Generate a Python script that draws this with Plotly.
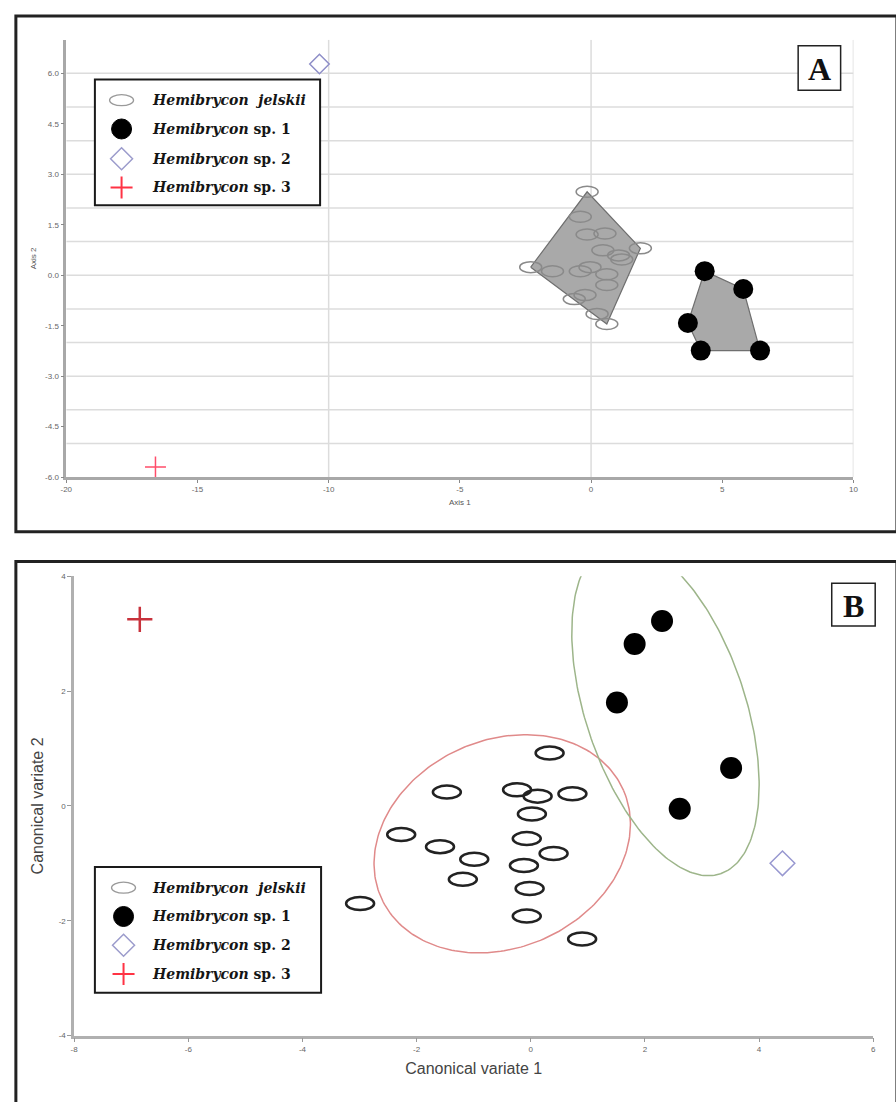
import numpy as np
import plotly.graph_objects as go

W, H = 896, 1102

# ---------------- Panel A: PCA-style axis scores ----------------
a_jelskii_x = [-0.15, -0.41, -0.15, 0.53, 0.45, 1.88, 1.05, 1.17, -2.30, -1.47,
               -0.41, -0.04, 0.60, 0.60, -0.23, -0.64, 0.23, 0.60]
a_jelskii_y = [2.48, 1.74, 1.21, 1.24, 0.74, 0.80, 0.59, 0.47, 0.24, 0.12,
               0.12, 0.24, 0.03, -0.29, -0.59, -0.71, -1.15, -1.45]
a_sp1_x = [4.33, 5.80, 3.69, 4.18, 6.44]
a_sp1_y = [0.12, -0.41, -1.42, -2.24, -2.24]
a_sp2_x = [-10.35]
a_sp2_y = [6.28]
a_sp3_x = [-16.6]
a_sp3_y = [-5.70]

a_xticks = [-20, -15, -10, -5, 0, 5, 10]
a_yticks = [-6.0, -4.5, -3.0, -1.5, 0.0, 1.5, 3.0, 4.5, 6.0]

# ---------------- Panel B: canonical variates ----------------
b_jelskii_x = [0.33, -1.47, -0.24, 0.12, 0.73, 0.02, -2.27, -0.07, -1.59, 0.40,
               -0.99, -0.12, -1.19, -0.02, -2.99, -0.07, 0.90]
b_jelskii_y = [0.92, 0.24, 0.28, 0.17, 0.21, -0.14, -0.50, -0.57, -0.71, -0.83,
               -0.93, -1.04, -1.28, -1.44, -1.70, -1.92, -2.32]
b_sp1_x = [2.30, 1.82, 1.51, 3.51, 2.61]
b_sp1_y = [3.22, 2.82, 1.80, 0.66, -0.05]
b_sp2_x = [4.41]
b_sp2_y = [-1.00]
b_sp3_x = [-6.85]
b_sp3_y = [3.25]

b_xticks = [-8, -6, -4, -2, 0, 2, 4, 6]
b_yticks = [-4, -2, 0, 2, 4]

# confidence ellipses: centre, semi-axes, rotation (degrees)
b_jelskii_ellipse = dict(cx=-0.50, cy=-0.66, a=2.32, b=1.81, angle=23.6)
b_sp1_ellipse = dict(cx=2.36, cy=1.69, a=3.03, b=1.40, angle=-71.4)

legend_labels = ["<b><i>Hemibrycon  jelskii</i></b>",
                 "<b><i>Hemibrycon</i> sp. 1</b>",
                 "<b><i>Hemibrycon</i> sp. 2</b>",
                 "<b><i>Hemibrycon</i> sp. 3</b>"]


def px_x(v):
    return v / W


def px_y(v):
    return 1 - v / H


def convex_hull(xs, ys):
    pts = sorted(set(zip(xs, ys)))

    def cross(o, a, b):
        return (a[0] - o[0]) * (b[1] - o[1]) - (a[1] - o[1]) * (b[0] - o[0])

    lower, upper = [], []
    for p in pts:
        while len(lower) >= 2 and cross(lower[-2], lower[-1], p) <= 0:
            lower.pop()
        lower.append(p)
    for p in reversed(pts):
        while len(upper) >= 2 and cross(upper[-2], upper[-1], p) <= 0:
            upper.pop()
        upper.append(p)
    hull = lower[:-1] + upper[:-1]
    hull.append(hull[0])
    return [p[0] for p in hull], [p[1] for p in hull]


def ellipse_path(e, n=241):
    t = np.linspace(0, 2 * np.pi, n)
    th = np.deg2rad(e["angle"])
    ex = e["a"] * np.cos(t)
    ey = e["b"] * np.sin(t)
    return (e["cx"] + ex * np.cos(th) - ey * np.sin(th),
            e["cy"] + ex * np.sin(th) + ey * np.cos(th))


fig = go.Figure()
shapes = []
annotations = []

# ---- Panel A traces ----
hx, hy = convex_hull(a_jelskii_x, a_jelskii_y)
fig.add_trace(go.Scatter(x=hx, y=hy, mode="lines", fill="toself",
                         fillcolor="#a9a9a9", line=dict(color="#6f6f6f", width=1.2),
                         xaxis="x", yaxis="y", showlegend=False, hoverinfo="skip"))
hx, hy = convex_hull(a_sp1_x, a_sp1_y)
fig.add_trace(go.Scatter(x=hx, y=hy, mode="lines", fill="toself",
                         fillcolor="#a9a9a9", line=dict(color="#6f6f6f", width=1.2),
                         xaxis="x", yaxis="y", showlegend=False, hoverinfo="skip"))
fig.add_trace(go.Scatter(x=a_sp1_x, y=a_sp1_y, mode="markers",
                         marker=dict(color="black", size=20),
                         xaxis="x", yaxis="y", showlegend=False))
fig.add_trace(go.Scatter(x=a_sp2_x, y=a_sp2_y, mode="markers",
                         marker=dict(symbol="diamond-open", color="#8f8fc8", size=15,
                                     line=dict(width=1.5)),
                         xaxis="x", yaxis="y", showlegend=False))
fig.add_trace(go.Scatter(x=a_sp3_x, y=a_sp3_y, mode="markers",
                         marker=dict(symbol="cross-thin-open", color="#ff4d6a", size=15,
                                     line=dict(width=1.5, color="#ff4d6a")),
                         xaxis="x", yaxis="y", showlegend=False))

# gridlines for panel A (every unit in y, every 10 in x)
for gy in np.arange(-5, 7, 1):
    shapes.append(dict(type="line", xref="x", yref="y", x0=-20, x1=10, y0=gy, y1=gy,
                       line=dict(color="#dcdcdc", width=1.5), layer="below"))
for gx in [-10, 0, 10]:
    shapes.append(dict(type="line", xref="x", yref="y", x0=gx, x1=gx, y0=-6, y1=7,
                       line=dict(color="#dcdcdc", width=1.5), layer="below"))

# open ellipse markers (H. jelskii) for panel A
for x, y in zip(a_jelskii_x, a_jelskii_y):
    shapes.append(dict(type="circle", xref="x", yref="y",
                       xsizemode="pixel", xanchor=x, x0=-11, x1=11,
                       ysizemode="pixel", yanchor=y, y0=-5.5, y1=5.5,
                       line=dict(color="#8a8a8a", width=1.5)))

# ---- Panel B traces ----
ex, ey = ellipse_path(b_jelskii_ellipse)
fig.add_trace(go.Scatter(x=ex, y=ey, mode="lines", line=dict(color="#e08a8a", width=1.5),
                         xaxis="x2", yaxis="y2", showlegend=False, hoverinfo="skip"))
ex, ey = ellipse_path(b_sp1_ellipse)
fig.add_trace(go.Scatter(x=ex, y=ey, mode="lines", line=dict(color="#9db58a", width=1.5),
                         xaxis="x2", yaxis="y2", showlegend=False, hoverinfo="skip"))
fig.add_trace(go.Scatter(x=b_sp1_x, y=b_sp1_y, mode="markers",
                         marker=dict(color="black", size=22),
                         xaxis="x2", yaxis="y2", showlegend=False))
fig.add_trace(go.Scatter(x=b_sp2_x, y=b_sp2_y, mode="markers",
                         marker=dict(symbol="diamond-open", color="#9898d0", size=19,
                                     line=dict(width=1.5)),
                         xaxis="x2", yaxis="y2", showlegend=False))
fig.add_trace(go.Scatter(x=b_sp3_x, y=b_sp3_y, mode="markers",
                         marker=dict(symbol="cross-thin-open", color="#c8323c", size=18,
                                     line=dict(width=2.5, color="#c8323c")),
                         xaxis="x2", yaxis="y2", showlegend=False))

for x, y in zip(b_jelskii_x, b_jelskii_y):
    shapes.append(dict(type="circle", xref="x2", yref="y2",
                       xsizemode="pixel", xanchor=x, x0=-14, x1=14,
                       ysizemode="pixel", yanchor=y, y0=-6.5, y1=6.5,
                       line=dict(color="#222222", width=2.5)))

# ---- panel frames ----
shapes.append(dict(type="rect", xref="paper", yref="paper",
                   x0=px_x(10), x1=px_x(W + 6), y0=px_y(532), y1=px_y(12),
                   line=dict(color="#222222", width=3)))
shapes.append(dict(type="rect", xref="paper", yref="paper",
                   x0=px_x(10), x1=px_x(W + 6), y0=px_y(H + 10), y1=px_y(562),
                   line=dict(color="#222222", width=3)))

# ---- panel letters ----
for letter, (x0, y0, x1, y1) in [("A", (802, 42, 845, 87)), ("B", (836, 584, 880, 627))]:
    shapes.append(dict(type="rect", xref="paper", yref="paper",
                       x0=px_x(x0), x1=px_x(x1), y0=px_y(y1), y1=px_y(y0),
                       fillcolor="white", line=dict(color="#222222", width=1.5)))
    annotations.append(dict(xref="paper", yref="paper", x=px_x((x0 + x1) / 2),
                            y=px_y((y0 + y1) / 2 + 1), text="<b>%s</b>" % letter,
                            showarrow=False, xanchor="center", yanchor="middle",
                            font=dict(family="Liberation Serif", size=32, color="#111")))


# ---- legends ----
def add_legend(box, rows_y, sym_x, text_x, plus_color):
    x0, y0, x1, y1 = box
    shapes.append(dict(type="rect", xref="paper", yref="paper",
                       x0=px_x(x0), x1=px_x(x1), y0=px_y(y1), y1=px_y(y0),
                       fillcolor="white", line=dict(color="#1a1a1a", width=2)))
    ax = px_x(sym_x)
    # ellipse
    ay = px_y(rows_y[0])
    shapes.append(dict(type="circle", xref="paper", yref="paper",
                       xsizemode="pixel", xanchor=ax, x0=-12, x1=12,
                       ysizemode="pixel", yanchor=ay, y0=-5.5, y1=5.5,
                       line=dict(color="#9a9a9a", width=1.3)))
    # filled dot
    ay = px_y(rows_y[1])
    shapes.append(dict(type="circle", xref="paper", yref="paper",
                       xsizemode="pixel", xanchor=ax, x0=-10, x1=10,
                       ysizemode="pixel", yanchor=ay, y0=-10, y1=10,
                       fillcolor="black", line=dict(color="black", width=1)))
    # diamond
    ay = px_y(rows_y[2])
    shapes.append(dict(type="path", xref="paper", yref="paper",
                       xsizemode="pixel", xanchor=ax, ysizemode="pixel", yanchor=ay,
                       path="M 0,11 L 11,0 L 0,-11 L -11,0 Z",
                       line=dict(color="#9c9ccc", width=1.5)))
    # plus
    ay = px_y(rows_y[3])
    shapes.append(dict(type="path", xref="paper", yref="paper",
                       xsizemode="pixel", xanchor=ax, ysizemode="pixel", yanchor=ay,
                       path="M -11,0 L 11,0 M 0,-11 L 0,11",
                       line=dict(color=plus_color, width=2)))
    for lab, ry in zip(legend_labels, rows_y):
        annotations.append(dict(xref="paper", yref="paper", x=px_x(text_x), y=px_y(ry),
                                text=lab, showarrow=False, xanchor="left", yanchor="middle",
                                font=dict(family="DejaVu Serif", size=14, color="#151515")))


add_legend((90, 76, 318, 203), [97, 126, 156, 185], 117, 146, "#ff3344")
add_legend((90, 870, 319, 997), [891, 920, 949, 978], 119, 146, "#ff3344")

tick_font = dict(family="Liberation Sans", size=8, color="#666666")

fig.update_layout(
    width=W, height=H,
    margin=dict(l=0, r=0, t=0, b=0),
    paper_bgcolor="white",
    plot_bgcolor="rgba(0,0,0,0)",
    showlegend=False,
    shapes=shapes,
    annotations=annotations,
    xaxis=dict(domain=[px_x(61), px_x(858)], range=[-20, 10], anchor="y",
               tickmode="array", tickvals=a_xticks, ticktext=[str(v) for v in a_xticks],
               ticks="outside", ticklen=3, tickcolor="#888", tickfont=tick_font,
               showline=True, linecolor="#a8a8a8", linewidth=2.5,
               showgrid=False, zeroline=False,
               title=dict(text="Axis 1", font=dict(family="Liberation Sans", size=8, color="#555"),
                          standoff=6)),
    yaxis=dict(domain=[px_y(477), px_y(36)], range=[-6, 7], anchor="x",
               tickmode="array", tickvals=a_yticks, ticktext=["%.1f" % v for v in a_yticks],
               ticks="outside", ticklen=3, tickcolor="#888", tickfont=tick_font,
               showline=True, linecolor="#a8a8a8", linewidth=2.5,
               showgrid=False, zeroline=False,
               title=dict(text="Axis 2", font=dict(family="Liberation Sans", size=8, color="#555"),
                          standoff=8)),
    xaxis2=dict(domain=[px_x(69), px_x(878)], range=[-8, 6], anchor="y2",
                tickmode="array", tickvals=b_xticks, ticktext=[str(v) for v in b_xticks],
                ticks="outside", ticklen=4, tickcolor="#999", tickfont=tick_font,
                showline=True, linecolor="#b0b0b0", linewidth=2.5,
                showgrid=False, zeroline=False,
                title=dict(text="Canonical variate 1",
                           font=dict(family="Liberation Sans", size=16, color="#444"),
                           standoff=10)),
    yaxis2=dict(domain=[px_y(1040), px_y(577)], range=[-4, 4], anchor="x2",
                tickmode="array", tickvals=b_yticks, ticktext=[str(v) for v in b_yticks],
                ticks="outside", ticklen=4, tickcolor="#999", tickfont=tick_font,
                showline=True, linecolor="#b0b0b0", linewidth=2.5,
                showgrid=False, zeroline=False,
                title=dict(text="Canonical variate 2",
                           font=dict(family="Liberation Sans", size=16, color="#444"),
                           standoff=12)),
)

fig.write_html("out.html")
